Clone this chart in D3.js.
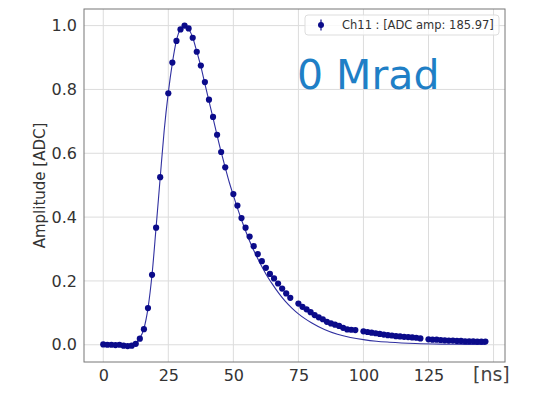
<!DOCTYPE html>
<html>
<head>
<meta charset="utf-8">
<script src="https://cdn.jsdelivr.net/npm/d3@7"></script>
<style>
  body { margin: 0; background: #fff; }
  text { font-family: "DejaVu Sans", sans-serif; }
</style>
</head>
<body>
<div id="the_chart"></div>
<script>
// sample times [ns] (blocks of 15 samples every 25 ns)
var times = [
  0, 1.56, 3.13, 4.69, 6.25, 7.81, 9.38, 10.94, 12.5, 14.06, 15.63, 17.19, 18.75, 20.31, 21.88,
  25, 26.56, 28.13, 29.69, 31.25, 32.81, 34.38, 35.94, 37.5, 39.06, 40.63, 42.19, 43.75, 45.31, 46.88,
  50, 51.56, 53.13, 54.69, 56.25, 57.81, 59.38, 60.94, 62.5, 64.06, 65.63, 67.19, 68.75, 70.31, 71.88,
  75, 76.56, 78.13, 79.69, 81.25, 82.81, 84.38, 85.94, 87.5, 89.06, 90.63, 92.19, 93.75, 95.31, 96.88,
  100, 101.56, 103.13, 104.69, 106.25, 107.81, 109.38, 110.94, 112.5, 114.06, 115.63, 117.19, 118.75, 120.31, 121.88,
  125, 126.56, 128.13, 129.69, 131.25, 132.81, 134.38, 135.94, 137.5, 139.06, 140.63, 142.19, 143.75, 145.31, 146.88
];
var amps = [
  0.001, 0.0, 0.0, -0.001, 0.0, -0.003, -0.004, -0.003, 0.003, 0.019, 0.049, 0.115, 0.219, 0.367, 0.525,
  0.788, 0.884, 0.952, 0.988, 1.0, 0.991, 0.962, 0.918, 0.875, 0.823, 0.768, 0.714, 0.658, 0.604, 0.556,
  0.472, 0.436, 0.397, 0.367, 0.339, 0.309, 0.284, 0.262, 0.241, 0.222, 0.208, 0.192, 0.176, 0.161, 0.147,
  0.129, 0.119, 0.111, 0.102, 0.093, 0.086, 0.080, 0.072, 0.067, 0.063, 0.059, 0.053, 0.048, 0.047, 0.046,
  0.042, 0.040, 0.038, 0.036, 0.034, 0.032, 0.030, 0.029, 0.027, 0.026, 0.025, 0.024, 0.023, 0.022, 0.020,
  0.017, 0.016, 0.016, 0.015, 0.014, 0.013, 0.013, 0.012, 0.012, 0.011, 0.011, 0.011, 0.010, 0.010, 0.010
];
// fitted pulse shape
var fitT = [0, 10, 12, 13, 14, 15.6, 17.2, 18.75, 20.3, 21.9, 23.4, 25, 26.6, 28.1, 29.7, 31.25, 32.8, 34.4,
  35.9, 37.5, 39, 40.6, 42.2, 43.75, 45.3, 46.9, 48.4, 50, 52, 54, 56, 58, 60, 62.5, 65, 67.5, 70, 72.5,
  75, 77.5, 80, 85, 90, 95, 100, 105, 110, 120, 130, 140, 146.9];
var fitA = [0, 0, 0.003, 0.009, 0.02, 0.05, 0.115, 0.22, 0.367, 0.525, 0.67, 0.79, 0.885, 0.952, 0.99, 1.0, 0.99, 0.962,
  0.92, 0.872, 0.82, 0.765, 0.71, 0.656, 0.604, 0.555, 0.51, 0.468, 0.418, 0.372, 0.33, 0.293, 0.26, 0.222, 0.19, 0.161, 0.136, 0.115,
  0.097, 0.082, 0.069, 0.048, 0.033, 0.023, 0.016, 0.011, 0.008, 0.004, 0.002, 0.001, 0.0006];
var xTicks = [0, 25, 50, 75, 100, 125, 150];
var yTicks = [0.0, 0.2, 0.4, 0.6, 0.8, 1.0];
var legendLabel = "Ch11 : [ADC amp: 185.97]";
var doseLabel = "0 Mrad";

var w = 538, h = 397;
var pLeft = 84, pRight = 505, pTop = 9, pBottom = 362;
var dotColor = "#0b0b8a";

var svg = d3.select("#the_chart").append("svg")
    .attr("width", w).attr("height", h);

var xscale = d3.scaleLinear().domain([-7.4, 154.4]).range([pLeft, pRight]);
var yscale = d3.scaleLinear().domain([-0.054, 1.052]).range([pBottom, pTop]);

// grid
svg.append("g").selectAll("line").data(xTicks).enter().append("line")
    .attr("x1", function(d) { return xscale(d); })
    .attr("x2", function(d) { return xscale(d); })
    .attr("y1", pTop).attr("y2", pBottom)
    .attr("stroke", "#dcdcdc").attr("stroke-width", 1);
svg.append("g").selectAll("line").data(yTicks).enter().append("line")
    .attr("y1", function(d) { return yscale(d); })
    .attr("y2", function(d) { return yscale(d); })
    .attr("x1", pLeft).attr("x2", pRight)
    .attr("stroke", "#dcdcdc").attr("stroke-width", 1);

// axes (labels only, no tick marks)
var xaxis = d3.axisBottom(xscale).tickValues(xTicks.slice(0, 6)).tickSize(0).tickPadding(8)
    .tickFormat(d3.format("d"));
var gX = svg.append("g").attr("transform", "translate(0," + pBottom + ")").call(xaxis);
var yaxis = d3.axisLeft(yscale).tickValues(yTicks).tickSize(0).tickPadding(7)
    .tickFormat(d3.format(".1f"));
var gY = svg.append("g").attr("transform", "translate(" + pLeft + ",0)").call(yaxis);
[gX, gY].forEach(function(g) {
  g.select(".domain").remove();
  g.selectAll("text").attr("font-size", 16).attr("fill", "#333")
    .attr("font-family", "DejaVu Sans");
});

// frame
svg.append("rect").attr("x", pLeft).attr("y", pTop)
    .attr("width", pRight - pLeft).attr("height", pBottom - pTop)
    .attr("fill", "none").attr("stroke", "#777").attr("stroke-width", 1);

// fit line
var line = d3.line()
    .x(function(d, i) { return xscale(fitT[i]); })
    .y(function(d) { return yscale(d); })
    .curve(d3.curveMonotoneX);
svg.append("path").datum(fitA)
    .attr("d", line)
    .attr("fill", "none").attr("stroke", "#3030a0").attr("stroke-width", 1.1);

// data points
svg.selectAll("circle.pt").data(amps).enter().append("circle")
    .attr("class", "pt")
    .attr("r", 3.1)
    .attr("cx", function(d, i) { return xscale(times[i]); })
    .attr("cy", function(d) { return yscale(d); })
    .attr("fill", dotColor);

// axis labels
svg.append("text").attr("x", 473).attr("y", 381)
    .attr("font-size", 19).attr("fill", "#444").text("[ns]");
svg.append("text")
    .attr("transform", "translate(45," + ((pTop + pBottom) / 2) + ") rotate(-90)")
    .attr("text-anchor", "middle").attr("font-size", 15).attr("fill", "#333")
    .text("Amplitude [ADC]");

// legend
var lg = svg.append("g");
lg.append("rect").attr("x", 305).attr("y", 15).attr("width", 194).attr("height", 20)
    .attr("rx", 3).attr("fill", "#fff").attr("fill-opacity", 0.8)
    .attr("stroke", "#ddd");
lg.append("line").attr("x1", 321).attr("x2", 321).attr("y1", 19.5).attr("y2", 30.5)
    .attr("stroke", dotColor).attr("stroke-width", 1.2);
lg.append("circle").attr("cx", 321).attr("cy", 25).attr("r", 3).attr("fill", dotColor);
lg.append("text").attr("x", 342).attr("y", 29).attr("font-size", 11.5).attr("fill", "#333")
    .text(legendLabel);

// dose annotation
svg.append("text").attr("x", 297).attr("y", 89)
    .attr("font-family", "Lato, sans-serif").attr("font-size", 41)
    .attr("fill", "#1f7fc6").text(doseLabel);
</script>
</body>
</html>
